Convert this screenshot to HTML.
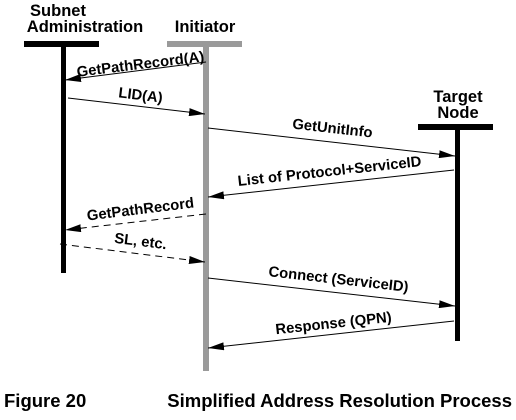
<!DOCTYPE html>
<html><head><meta charset="utf-8"><style>
html,body{margin:0;padding:0;background:#fff;}
svg{display:block;}
text{font-family:"Liberation Sans",Arial,sans-serif;font-weight:bold;fill:#000;}
</style></head><body>
<svg width="516" height="420" viewBox="0 0 516 420" xmlns="http://www.w3.org/2000/svg">
<defs>
<marker id="a" markerWidth="16" markerHeight="8" refX="16" refY="4" orient="auto" markerUnits="userSpaceOnUse">
<path d="M0,0 L16,4 L0,8 z" fill="#000"/></marker>
</defs>
<!-- headers -->
<text x="58" y="16" font-size="16.5" text-anchor="middle">Subnet</text>
<text x="85" y="32" font-size="16.5" text-anchor="middle">Administration</text>
<text x="205" y="32" font-size="16.5" text-anchor="middle">Initiator</text>
<text x="458" y="102" font-size="16.5" text-anchor="middle">Target</text>
<text x="458" y="118" font-size="16.5" text-anchor="middle">Node</text>
<!-- lifelines -->
<rect x="24" y="41" width="75" height="6" fill="#000"/>
<rect x="61" y="44" width="5" height="229" fill="#000"/>
<rect x="167" y="41" width="75" height="6" fill="#9a9a9a"/>
<rect x="203" y="44" width="6" height="327" fill="#9a9a9a"/>
<rect x="418" y="124" width="75" height="6" fill="#000"/>
<rect x="455" y="127" width="5" height="214" fill="#000"/>
<!-- arrows -->
<g stroke="#000" stroke-width="1" fill="none">
<line x1="206" y1="62" x2="65" y2="80" marker-end="url(#a)"/>
<line x1="68" y1="98" x2="205" y2="114" marker-end="url(#a)"/>
<line x1="208" y1="128" x2="455" y2="156" marker-end="url(#a)"/>
<line x1="454" y1="170" x2="208" y2="197" marker-end="url(#a)"/>
<line x1="206" y1="214" x2="65" y2="230" stroke-dasharray="7,5" marker-end="url(#a)"/>
<line x1="60" y1="244" x2="205" y2="262" stroke-dasharray="7,5" marker-end="url(#a)"/>
<line x1="208" y1="278" x2="455" y2="306" marker-end="url(#a)"/>
<line x1="454" y1="321" x2="208" y2="348" marker-end="url(#a)"/>
</g>
<!-- labels -->
<text font-size="14.8" text-anchor="middle" transform="translate(141,69) rotate(-7)">GetPathRecord(A)</text>
<text font-size="14.8" text-anchor="middle" transform="translate(140,100) rotate(7)">LID(A)</text>
<text font-size="14.8" text-anchor="middle" transform="translate(332,133) rotate(6.4)">GetUnitInfo</text>
<text font-size="14.8" text-anchor="middle" transform="translate(330,176) rotate(-6.2)">List of Protocol+ServiceID</text>
<text font-size="14.8" text-anchor="middle" transform="translate(141,214) rotate(-7)">GetPathRecord</text>
<text font-size="14.8" text-anchor="middle" transform="translate(140,246) rotate(7)">SL, etc.</text>
<text font-size="14.8" text-anchor="middle" transform="translate(338,284) rotate(6.4)">Connect (ServiceID)</text>
<text font-size="14.8" text-anchor="middle" transform="translate(334,328) rotate(-6.2)">Response (QPN)</text>
<!-- caption -->
<text x="4" y="407" font-size="18.5">Figure 20</text>
<text x="512" y="407" font-size="18.5" text-anchor="end">Simplified Address Resolution Process</text>
</svg>
</body></html>
